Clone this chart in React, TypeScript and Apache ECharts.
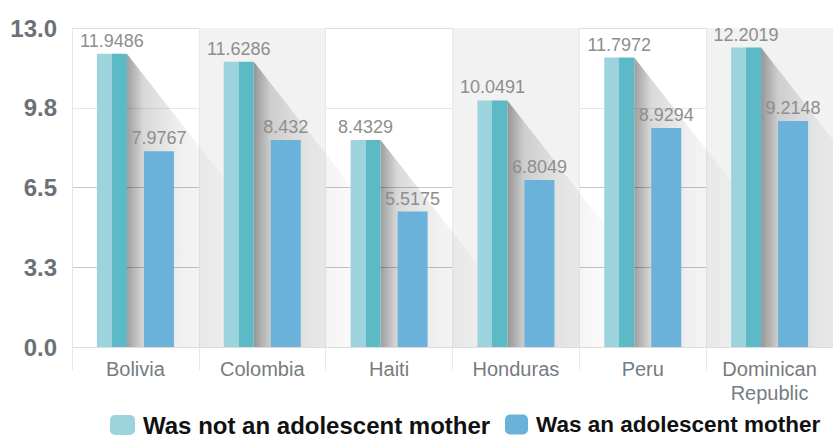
import React, { useEffect, useRef } from "react";
import * as echarts from "echarts";

const categories = ["Bolivia", "Colombia", "Haiti", "Honduras", "Peru", "Dominican\nRepublic"];
const notAdolescent = [11.9486, 11.6286, 8.4329, 10.0491, 11.7972, 12.2019];
const adolescent = [7.9767, 8.432, 5.5175, 6.8049, 8.9294, 9.2148];
const seriesNames = ["Was not an adolescent mother", "Was an adolescent mother"];

const LIGHT = "#9dd3dd";
const DARK = "#5bbac6";
const BLUE = "#6ab2da";
const SANS = "'Liberation Sans', Arial, sans-serif";

export default function App() {
  const ref = useRef<HTMLDivElement>(null);
  useEffect(() => {
    const chart = echarts.init(ref.current!, null, { renderer: "svg" });
    const BAR_W = 30;
    const GAP = 17;
    const legendText = { fontFamily: SANS, fontWeight: "bold", color: "#111" };
    const option: any = {
      animation: false,
      grid: { left: 72, top: 28, width: 767, height: 319, containLabel: false },
      legend: [
        {
          left: 110,
          top: 413,
          padding: 0,
          itemWidth: 25,
          itemHeight: 20,
          data: [{ name: seriesNames[0], itemStyle: { color: LIGHT } }],
          textStyle: { ...legendText, fontSize: 24, padding: [0, 0, 0, 3] },
        },
        {
          left: 505,
          top: 413,
          padding: 0,
          itemWidth: 23,
          itemHeight: 20,
          data: [{ name: seriesNames[1], itemStyle: { color: BLUE } }],
          textStyle: { ...legendText, fontSize: 22.5, padding: [0, 0, 0, 3] },
        },
      ],
      xAxis: {
        type: "category",
        data: categories,
        axisLine: { show: true, lineStyle: { color: "#dcdcdc", width: 1 } },
        axisTick: { show: true, length: 23, interval: 0, lineStyle: { color: "#e8e8e8" } },
        axisLabel: { fontFamily: SANS, fontSize: 20, color: "#757c82", margin: 10, lineHeight: 24, interval: 0 },
        splitLine: { show: true, interval: 0, lineStyle: { color: "#e8e8e8" } },
        splitArea: { show: true, interval: 0, areaStyle: { color: ["rgba(255,255,255,0)", "#f2f2f2"] } },
      },
      yAxis: {
        type: "value",
        min: 0,
        max: 13,
        interval: 3.25,
        axisLine: { show: true, lineStyle: { color: "#e6e6e6" } },
        axisTick: { show: false },
        axisLabel: {
          fontFamily: SANS,
          fontWeight: "bold",
          fontSize: 24,
          color: "#6b7177",
          margin: 15,
          formatter: (v: number) => v.toFixed(1),
        },
        splitLine: { show: true, lineStyle: { color: ["#dcdcdc", "#c6c6c6", "#c6c6c6", "#e8e8e8", "#dedede"] } },
      },
      series: [
        {
          type: "custom",
          name: "shadow",
          silent: true,
          data: notAdolescent.map((v, i) => [i, v]),
          encode: { x: 0, y: 1 },
          renderItem: (params: any, api: any) => {
            const idx = api.value(0);
            const val = api.value(1);
            const top = api.coord([idx, val]);
            const base = api.coord([idx, 0]);
            const r = top[0] - (BAR_W * 2 + GAP) / 2 + BAR_W;
            const h = base[1] - top[1];
            const dx = h / 1.28;
            return {
              type: "polygon",
              shape: { points: [[r, top[1]], [r + dx, base[1]], [r, base[1]]] },
              style: {
                fill: {
                  type: "linear",
                  x: r,
                  y: 0,
                  x2: r + 120,
                  y2: 0,
                  global: true,
                  colorStops: [
                    { offset: 0, color: "rgba(0,0,0,0.38)" },
                    { offset: 0.14, color: "rgba(0,0,0,0.15)" },
                    { offset: 0.45, color: "rgba(0,0,0,0.06)" },
                    { offset: 1, color: "rgba(0,0,0,0)" },
                  ],
                },
              },
            };
          },
        },
        {
          type: "bar",
          name: seriesNames[0],
          data: notAdolescent,
          barWidth: BAR_W,
          barGap: (GAP / BAR_W) * 100 + "%",
          itemStyle: {
            color: {
              type: "linear",
              x: 0,
              y: 0,
              x2: 1,
              y2: 0,
              colorStops: [
                { offset: 0, color: LIGHT },
                { offset: 0.5, color: LIGHT },
                { offset: 0.5, color: DARK },
                { offset: 1, color: DARK },
              ],
            },
          },
          label: { show: true, position: "top", distance: 4, fontFamily: SANS, fontSize: 18, color: "#8e8e8e" },
        },
        {
          type: "bar",
          name: seriesNames[1],
          data: adolescent,
          barWidth: BAR_W,
          itemStyle: { color: BLUE },
          label: { show: true, position: "top", distance: 4, fontFamily: SANS, fontSize: 18, color: "#8e8e8e" },
        },
      ],
    };
    chart.setOption(option);
    return () => chart.dispose();
  }, []);
  return <div ref={ref} style={{ width: 833, height: 437, position: "absolute", left: 0, top: 0 }} />;
}
